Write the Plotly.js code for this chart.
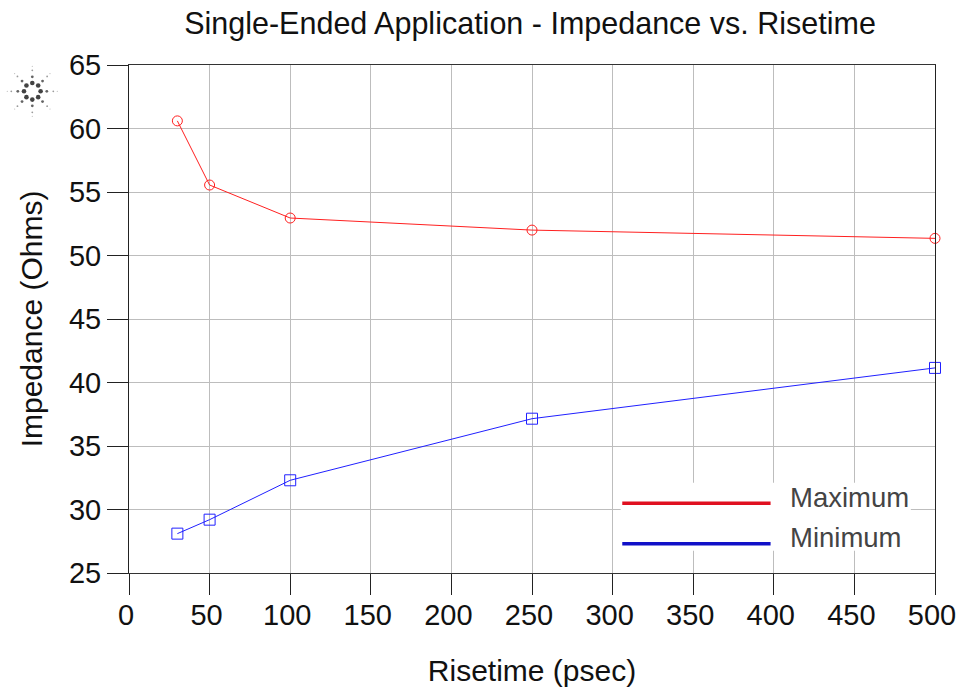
<!DOCTYPE html>
<html><head><meta charset="utf-8"><script src="https://cdn.plot.ly/plotly-3.0.1.min.js"></script>
<style>html,body{margin:0;padding:0;background:#fff}</style></head><body><div id="c" style="width:963px;height:688px"></div>
<script>
const risetime=[30,50,100,250,500];
const maximum=[60.6,55.55,52.95,52,51.35];
const minimum=[28.1,29.2,32.3,37.15,41.15];
const xTicks=[0,50,100,150,200,250,300,350,400,450,500];
const yTicks=[25,30,35,40,45,50,55,60,65];
const F="Liberation Sans, Arial, sans-serif";
// Logo: eight rays of fading dots
let dots='';
const ringR=[8.3,14.5,21,25], dotR=[2.3,1.4,0.9,0.6], dotA=[0.85,0.7,0.45,0.3];
for(let k=0;k<8;k++){ const a=k*Math.PI/4;
  ringR.forEach((r,i)=>{dots+=`<circle cx="${30+r*Math.cos(a)}" cy="${30+r*Math.sin(a)}" r="${dotR[i]}" fill="#222" fill-opacity="${dotA[i]}"/>`;});
}
const logo='data:image/svg+xml;utf8,'+encodeURIComponent(`<svg xmlns="http://www.w3.org/2000/svg" width="60" height="60" viewBox="0 0 60 60">${dots}</svg>`);
Plotly.newPlot('c',[
{x:risetime,y:maximum,name:'Maximum',mode:'lines+markers',line:{color:'#ff2020',width:1},marker:{symbol:'circle-open',size:10,color:'#ff2020',line:{width:1,color:'#ff2020'}},cliponaxis:false},
{x:risetime,y:minimum,name:'Minimum',mode:'lines+markers',line:{color:'#2020ff',width:1},marker:{symbol:'square-open',size:11,color:'#2020ff',line:{width:1,color:'#2020ff'}},cliponaxis:false}
],{
width:963,height:688,margin:{l:129,r:28,t:65,b:115},paper_bgcolor:'#fff',plot_bgcolor:'#fff',showlegend:false,
title:{text:'Single-Ended Application - Impedance vs. Risetime',font:{family:F,size:30.5,color:'#111'},x:0.5504,xanchor:'center',y:0.966,yanchor:'middle'},
font:{family:F,size:29,color:'#111'},
xaxis:{range:[0,500],tickvals:xTicks,ticktext:xTicks.map(String),showgrid:true,gridcolor:'#bdbdbd',gridwidth:1,showline:true,linecolor:'#333',mirror:true,ticks:'outside',ticklen:21,tickcolor:'#222',tickfont:{size:29,family:F},ticklabelstandoff:-5,ticklabelshift:-3,zeroline:false,title:{text:'Risetime (psec)',font:{size:30,family:F},standoff:30}},
yaxis:{range:[25,65],tickvals:yTicks,ticktext:yTicks.map(String),showgrid:true,gridcolor:'#bdbdbd',gridwidth:1,showline:true,linecolor:'#222',mirror:true,ticks:'outside',ticklen:21,tickcolor:'#222',tickfont:{size:29,family:F},zeroline:false,title:{text:'Impedance (Ohms)',font:{size:30,family:F},standoff:17}},
images:[{source:logo,xref:'paper',yref:'paper',xanchor:'center',yanchor:'middle',x:(32.3-129)/806,y:(573-91.3)/508,sizex:60/806,sizey:60/508,sizing:'stretch',layer:'above'}],
shapes:[
{type:'rect',xref:'x',yref:'y',x0:305,x1:485,y0:26.75,y1:32.1,fillcolor:'#fff',line:{width:0},layer:'above'},
{type:'line',xref:'x',yref:'y',x0:306,x1:398,y0:30.5,y1:30.5,line:{color:'#e01020',width:3.5},layer:'above'},
{type:'line',xref:'x',yref:'y',x0:306,x1:398,y0:27.3,y1:27.3,line:{color:'#1010c8',width:3.5},layer:'above'}
],
annotations:[
{xref:'x',yref:'y',x:409,y:30.95,text:'Maximum',showarrow:false,xanchor:'left',font:{family:F,size:27.5,color:'#444'}},
{xref:'x',yref:'y',x:409,y:27.8,text:'Minimum',showarrow:false,xanchor:'left',font:{family:F,size:27.5,color:'#444'}}
]
},{displayModeBar:false});
</script></body></html>
